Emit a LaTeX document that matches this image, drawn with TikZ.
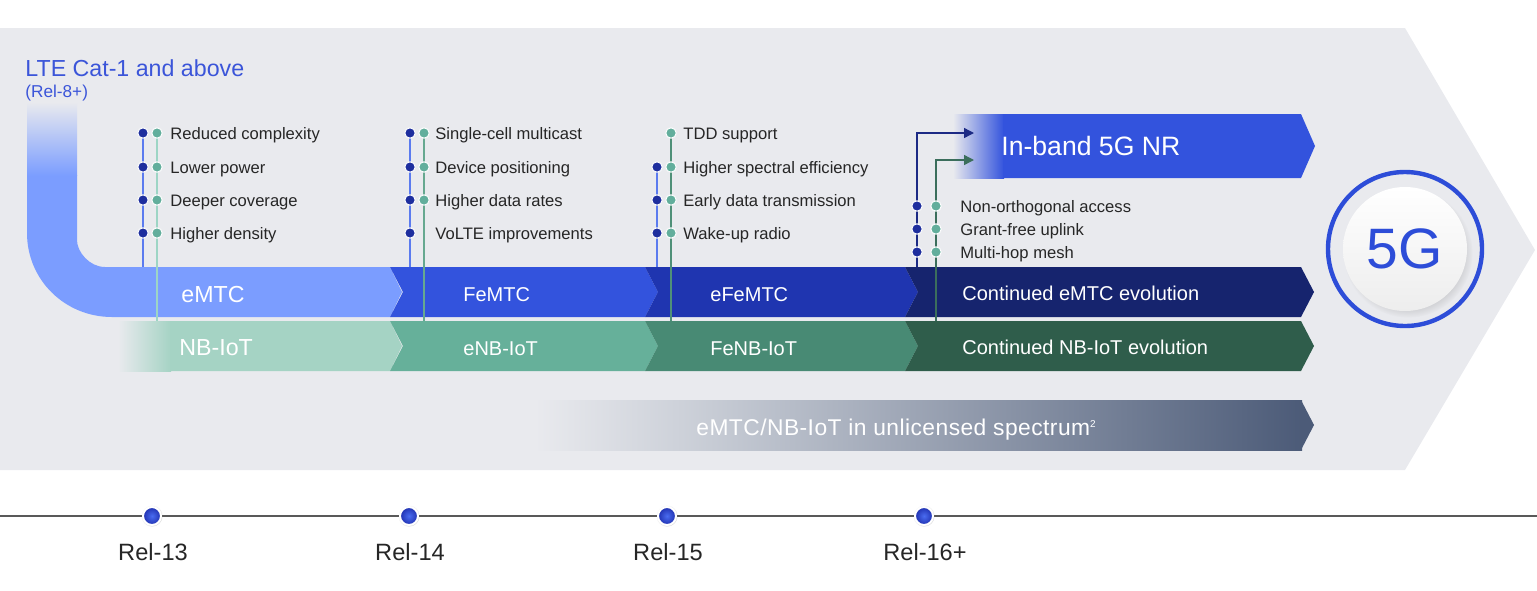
\documentclass[tikz,border=0pt]{standalone}
\usepackage{fontspec}
\setmainfont{Liberation Sans}
\usetikzlibrary{arrows.meta,shadows}

\definecolor{bggray}{HTML}{E9EAEE}
\definecolor{ltetext}{HTML}{3B55D9}
\definecolor{emtc}{HTML}{7B9DFF}
\definecolor{femtc}{HTML}{3353DD}
\definecolor{efemtc}{HTML}{1F35B0}
\definecolor{cemtc}{HTML}{16246E}
\definecolor{nbiot}{HTML}{A5D3C4}
\definecolor{enbiot}{HTML}{66B09A}
\definecolor{fenbiot}{HTML}{488A74}
\definecolor{cnbiot}{HTML}{2F5D4B}
\definecolor{unlic}{HTML}{4C5B78}
\definecolor{dotblue}{HTML}{1E2E9E}
\definecolor{dotgreen}{HTML}{62AE9C}
\definecolor{lineblue}{HTML}{5B7BEF}
\definecolor{greenA}{HTML}{9DD5C5}
\definecolor{greenB}{HTML}{66A890}
\definecolor{greenC}{HTML}{4F9078}
\definecolor{txtdark}{HTML}{262626}
\definecolor{ringblue}{HTML}{2D4DD8}
\definecolor{relblue}{HTML}{1F30B0}
\definecolor{relhigh}{HTML}{4A6CF0}
\definecolor{arrnavy}{HTML}{1C2A85}
\definecolor{arrgreen}{HTML}{3B6E5C}

\pgfdeclarelayer{back}
\pgfdeclarelayer{links}
\pgfsetlayers{back,links,main}

\tikzset{
  feat/.style={anchor=base west,inner sep=0pt,text=txtdark,font=\fontsize{8.3}{10}\selectfont},
  bandlabel/.style={anchor=base west,inner sep=0pt,text=white,font=\fontsize{10}{12}\selectfont},
  bigband/.style={bandlabel,font=\fontsize{11.6}{13}\selectfont},
  bdot/.style={circle,inner sep=0pt,minimum size=5.2pt,fill=dotblue,draw=white,line width=0.5pt},
  gdot/.style={circle,inner sep=0pt,minimum size=5.2pt,fill=dotgreen,draw=white,line width=0.5pt},
  bline/.style={lineblue,line width=0.6pt},
  gline/.style={line width=0.6pt},
  reldot/.style={circle,inner sep=0pt,minimum size=9pt,inner color=relhigh,outer color=relblue,draw=white,line width=1pt,
    circular drop shadow={shadow xshift=0pt,shadow yshift=0pt,shadow scale=1.2,opacity=0.3}},
  rellabel/.style={anchor=base,inner sep=0pt,text=txtdark,font=\fontsize{11.8}{13}\selectfont},
}

\begin{document}
\begin{tikzpicture}[x=0.5pt,y=-0.5pt]
\useasboundingbox (0,0) rectangle (1537,590);

\begin{pgfonlayer}{back}
% backdrop arrow
\fill[bggray] (0,28) -- (1405,28) -- (1535,250) -- (1405,470) -- (0,470) -- cycle;

% LTE stem bending into eMTC
\fill[emtc] (27,175) -- (27,233) .. controls (27,280) and (65,317) .. (112,317) -- (390,317) -- (402,292) -- (390,267) -- (105,267) .. controls (89.5,267) and (77,252) .. (77,240) -- (77,175) -- cycle;
\shade[top color=bggray,bottom color=emtc] (27,102) rectangle (77,175.5);
\foreach \a/\b/\c in {390/645/femtc,645/905/efemtc,905/1301/cemtc}
  \fill[\c] (\a,267) -- (\b,267) -- (\b+13,292) -- (\b,317) -- (\a,317) -- (\a+13,292) -- cycle;

% NB-IoT row
\shade[left color=bggray,right color=nbiot] (118,321) rectangle (171,371);
\fill[nbiot] (170,321) -- (390,321) -- (402,346) -- (390,371) -- (170,371) -- cycle;
\foreach \a/\b/\c in {390/645/enbiot,645/905/fenbiot,905/1301/cnbiot}
  \fill[\c] (\a,321) -- (\b,321) -- (\b+13,346) -- (\b,371) -- (\a,371) -- (\a+13,346) -- cycle;

% in-band NR
\shade[left color=bggray,right color=femtc] (953,114) rectangle (1004,178);
\fill[femtc] (1003,114) -- (1301,114) -- (1315,146) -- (1301,178) -- (1003,178) -- cycle;

% unlicensed
\shade[left color=bggray,right color=unlic!30!white] (535,400) rectangle (700,450);
\shade[left color=unlic!30!white,right color=unlic] (699,400) rectangle (1302,450);
\fill[unlic] (1301,400) -- (1314,425) -- (1301,450) -- cycle;
\end{pgfonlayer}

% title
\node[anchor=base west,inner sep=0pt,text=ltetext,font=\fontsize{11.6}{13}\selectfont] (lte) at (25,76) {LTE Cat-1 and above};
\node[anchor=base west,inner sep=0pt,text=ltetext,font=\fontsize{8.6}{10}\selectfont] (rel8) at (25,97) {(Rel-8+)};

% band labels
\node[bigband] (l-emtc) at (181,302) {eMTC};
\node[bandlabel] (l-femtc) at (463,301) {FeMTC};
\node[bandlabel] (l-efemtc) at (710,301) {eFeMTC};
\node[bandlabel] (l-cemtc) at (962,300) {Continued eMTC evolution};
\node[bigband] (l-nbiot) at (179,355) {NB-IoT};
\node[bandlabel] (l-enbiot) at (463,355) {eNB-IoT};
\node[bandlabel] (l-fenbiot) at (710,355) {FeNB-IoT};
\node[bandlabel] (l-cnbiot) at (962,354) {Continued NB-IoT evolution};
\node[anchor=base west,inner sep=0pt,text=white,font=\fontsize{13.3}{15}\selectfont] (l-nr) at (1001,155) {In-band 5G NR};
\node[anchor=base west,inner sep=0pt,text=white,font=\fontsize{11.4}{13}\selectfont\addfontfeature{LetterSpace=2}] (l-unlic) at (696,435) {eMTC/NB-IoT in unlicensed spectrum\textsuperscript{\tiny 2}};

% band edges the feature lines run to
\coordinate (e1b) at (143,267); \coordinate (e1g) at (157,321);
\coordinate (e2b) at (410,267); \coordinate (e2g) at (424,321);
\coordinate (e3b) at (657,267); \coordinate (e3g) at (671,321);
\coordinate (e4b) at (917,267); \coordinate (e4g) at (936,321);
\coordinate (nrb) at (974,133); \coordinate (nrg) at (974,160);

% Rel-13 features
\foreach \y/\t [count=\k] in {133/Reduced complexity,167/Lower power,200/Deeper coverage,233/Higher density} {
  \node[bdot] (b1-\k) at (143,\y) {};
  \node[gdot] (g1-\k) at (157,\y) {};
  \node[feat] (f1-\k) at (170,\y+6) {\t};
}
% Rel-14 features
\foreach \y/\t [count=\k] in {133/Single-cell multicast,167/Device positioning,200/Higher data rates,233/VoLTE improvements} {
  \node[bdot] (b2-\k) at (410,\y) {};
  \node[feat] (f2-\k) at (435,\y+6) {\t};
}
\foreach \y [count=\k] in {133,167,200} \node[gdot] (g2-\k) at (424,\y) {};
% Rel-15 features
\foreach \y/\t [count=\k] in {133/TDD support,167/Higher spectral efficiency,200/Early data transmission,233/Wake-up radio} {
  \node[gdot] (g3-\k) at (671,\y) {};
  \node[feat] (f3-\k) at (683,\y+6) {\t};
}
\foreach \y [count=\k] in {167,200,233} \node[bdot] (b3-\k) at (657,\y) {};
% Rel-16+ features
\foreach \y/\t [count=\k] in {206/Non-orthogonal access,229/Grant-free uplink,252/Multi-hop mesh} {
  \node[bdot] (b4-\k) at (917,\y) {};
  \node[gdot] (g4-\k) at (936,\y) {};
  \node[feat] (f4-\k) at (960,\y+6) {\t};
}

\begin{pgfonlayer}{links}
\draw[bline] (b1-1.center) -- (e1b);
\draw[gline,greenA] (g1-1.center) -- (e1g);
\draw[bline] (b2-1.center) -- (e2b);
\draw[gline,greenB] (g2-1.center) -- (e2g);
\draw[bline] (b3-1.center) -- (e3b);
\draw[gline,greenC] (g3-1.center) -- (e3g);
\draw[arrnavy,line width=0.7pt,-{Triangle[length=5pt,width=5pt]}] (e4b) |- (nrb);
\draw[arrgreen,line width=0.7pt,-{Triangle[length=5pt,width=5pt]}] (e4g) |- (nrg);
\end{pgfonlayer}

% 5G badge
\draw[ringblue,line width=2.2pt] (1405,249) circle[radius=77];
\node[circle,minimum size=62pt,inner sep=0pt,top color=white,bottom color=black!7,
  circular drop shadow={shadow xshift=1.5pt,shadow yshift=-2pt,shadow scale=1.04,opacity=0.25},
  text=ringblue,font=\fontsize{28.5}{30}\selectfont] (fiveg) at (1405,249) {5G};

% release timeline
\coordinate (tl-start) at (0,516);
\coordinate (tl-end) at (1537,516);
\draw[black!65,line width=0.9pt] (tl-start) -- (tl-end);
\foreach \x/\r [count=\k] in {152/13,409/14,667/15,924/16+} {
  \node[reldot] (r\k) at (\x,516) {};
  \node[rellabel] (rl\k) at (\x+1,560) {Rel-\r};
}
\end{tikzpicture}
\end{document}
